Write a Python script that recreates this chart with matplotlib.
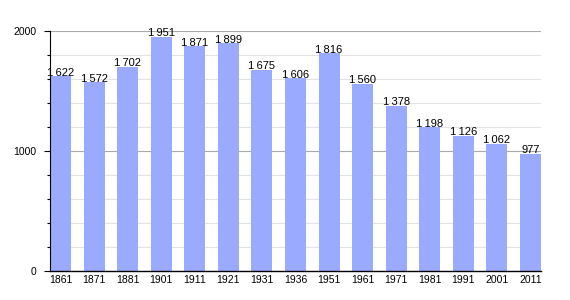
import matplotlib
matplotlib.use("Agg")
import matplotlib.pyplot as plt
from matplotlib.ticker import MultipleLocator

plt.rcParams["font.family"] = ["Liberation Sans", "DejaVu Sans"]

years = ["1861", "1871", "1881", "1901", "1911", "1921", "1931", "1936",
         "1951", "1961", "1971", "1981", "1991", "2001", "2011"]
population = [1622, 1572, 1702, 1951, 1871, 1899, 1675, 1606,
              1816, 1560, 1378, 1198, 1126, 1062, 977]

fig = plt.figure(figsize=(5.7, 3.0), dpi=100)
ax = fig.add_axes([50/570, 29/300, 491/570, 240/300])

x = list(range(len(years)))
w = 0.627
ax.bar(x, population, width=w, color="#99aaff", zorder=2)
ax.set_xlim(-w/2, len(years) - 1 + w/2)
ax.set_ylim(0, 2000)

ax.yaxis.set_major_locator(MultipleLocator(1000))
ax.yaxis.set_minor_locator(MultipleLocator(200))
ax.grid(axis="y", which="major", color="#aaaaaa", linewidth=0.8, zorder=0)
ax.grid(axis="y", which="minor", color="#e4e4e4", linewidth=0.8, zorder=0)
ax.set_axisbelow(True)

ax.set_xticks(x)
ax.set_xticklabels(years, fontsize=7.5)
ax.tick_params(axis="x", length=0, pad=3)
ax.tick_params(axis="y", which="major", length=4.5, width=0.8, labelsize=7.5, pad=5)
ax.tick_params(axis="y", which="minor", length=2, width=0.8, direction="out")

for s in ["top", "right"]:
    ax.spines[s].set_visible(False)
ax.spines["left"].set_linewidth(0.8)
ax.spines["bottom"].set_linewidth(1.0)

for xi, v in zip(x, population):
    s = f"{v:,}".replace(",", "\u2009")
    ax.text(xi, v - 12, s, ha="center", va="bottom", fontsize=8, zorder=3)

fig.savefig("out.png", dpi=100)
